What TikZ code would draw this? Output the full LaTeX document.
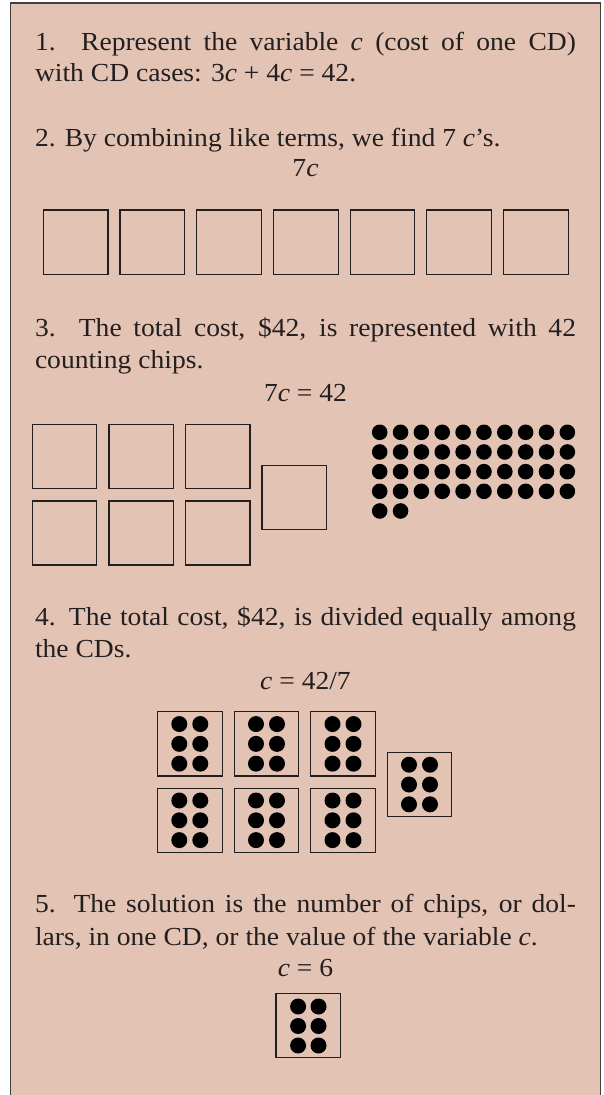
\documentclass[tikz,border=0pt]{standalone}
\usepackage{fontspec}
\setmainfont[FakeStretch=1.06]{Liberation Serif}
\definecolor{bg}{HTML}{E3C3B3}
\definecolor{ink}{HTML}{231F20}
\definecolor{framec}{HTML}{404040}
\tikzset{
  txt/.style={inner sep=0pt, outer sep=0pt, text=ink, font=\fontsize{26}{30}\selectfont},
  line/.style={txt, anchor=base west},
  eqn/.style={txt, anchor=base},
  cdbox/.style={draw=ink, line width=1.2pt},
  chip/.style={fill=black},
}
\newcommand{\fullline}[1]{\makebox[541pt][s]{#1}}
\begin{document}
\begin{tikzpicture}[x=1pt,y=-1pt]
\useasboundingbox (0,0) rectangle (603,1095);
\clip (0,0) rectangle (603,1095);
% frame
\fill[bg] (10.5,3) rectangle (600.5,1100);
\draw[framec, line width=1.4pt] (10.5,1100) -- (10.5,3) -- (600.5,3) -- (600.5,1100);

% step 1
\node[line] (s1a) at (35,50) {\fullline{1. Represent the variable \textit{c} (cost of one CD)}};
\node[line] (s1b) at (35,81.7) {with CD cases: 3\textit{c} + 4\textit{c} = 42.};

% step 2
\node[line] (s2a) at (35,146) {2. By combining like terms, we find 7 \textit{c}’s.};
\node[eqn] (s2e) at (305.5,176.7) {7\textit{c}};
\foreach \i in {0,...,6} {
  \draw[cdbox] ({43.3+\i*76.7},210) rectangle ({108+\i*76.7},274.3);
}

% step 3
\node[line] (s3a) at (35,336) {\fullline{3.\ \ The total cost, \$42, is represented with 42}};
\node[line] (s3b) at (35,368) {counting chips.};
\node[eqn] (s3e) at (305.5,401.7) {7\textit{c} = 42};
\foreach \i in {0,1,2} {
  \draw[cdbox] ({32.3+\i*76.6},424.3) rectangle ({96.7+\i*76.6},488.3);
  \draw[cdbox] ({32.3+\i*76.6},501) rectangle ({96.7+\i*76.6},565);
}
\draw[cdbox] (262,465.3) rectangle (326.7,529.3);
\foreach \r in {0,...,3} {
  \foreach \c in {0,...,9} {
    \fill[chip] ({379.7+\c*20.85},{432.3+\r*19.67}) circle (7.8pt);
  }
}
\foreach \c in {0,1} {
  \fill[chip] ({379.7+\c*20.85},{432.3+4*19.67}) circle (7.8pt);
}

% step 4
\node[line] (s4a) at (35,625.7) {\fullline{4. The total cost, \$42, is divided equally among}};
\node[line] (s4b) at (35,657.3) {the CDs.};
\node[eqn] (s4e) at (305.5,689.3) {\textit{c} = 42/7};
\foreach \cx/\cy in {189.8/743.85, 266.5/743.85, 343/743.85, 189.8/820.3, 266.5/820.3, 343/820.3, 419.5/784.5} {
  \draw[cdbox] ({\cx-32.3},{\cy-32.2}) rectangle ({\cx+32.3},{\cy+32.2});
  \foreach \dx in {-10.5,10.5} {
    \foreach \dy in {-19.8,0,19.8} {
      \fill[chip] ({\cx+\dx},{\cy+\dy}) circle (8pt);
    }
  }
}

% step 5
\node[line] (s5a) at (35,912.7) {\fullline{5. The solution is the number of chips, or dol-}};
\node[line] (s5b) at (35,945) {lars, in one CD, or the value of the variable \textit{c}.};
\node[eqn] (s5e) at (305.5,976.7) {\textit{c} = 6};
\draw[cdbox] (276,993.3) rectangle (340.6,1057.3);
\foreach \dx in {-10.2,10.2} {
  \foreach \dy in {-19.5,0,19.5} {
    \fill[chip] ({308.3+\dx},{1026+\dy}) circle (8pt);
  }
}
\end{tikzpicture}
\end{document}
